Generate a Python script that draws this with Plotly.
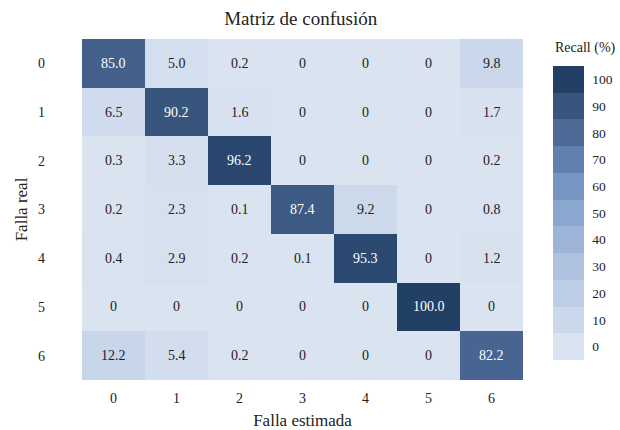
import plotly.graph_objects as go

# Fault classes (real on rows, estimated on columns)
clases = ["0", "1", "2", "3", "4", "5", "6"]

# Recall (%) per real class
fila_0 = [85.0, 5.0, 0.2, 0, 0, 0, 9.8]
fila_1 = [6.5, 90.2, 1.6, 0, 0, 0, 1.7]
fila_2 = [0.3, 3.3, 96.2, 0, 0, 0, 0.2]
fila_3 = [0.2, 2.3, 0.1, 87.4, 9.2, 0, 0.8]
fila_4 = [0.4, 2.9, 0.2, 0.1, 95.3, 0, 1.2]
fila_5 = [0, 0, 0, 0, 0, 100.0, 0]
fila_6 = [12.2, 5.4, 0.2, 0, 0, 0, 82.2]
matriz = [fila_0, fila_1, fila_2, fila_3, fila_4, fila_5, fila_6]

ticks_barra = [0, 10, 20, 30, 40, 50, 60, 70, 80, 90, 100]

colores = ["#dae3f0", "#cbd8eb", "#bdcde6", "#aec1df", "#9db4d8", "#8aa7cf",
           "#7695c2", "#6280ae", "#4d6a96", "#38557e", "#223f66"]

FUENTE = "Liberation Serif, Times New Roman, serif"
TINTA = "#222222"

# continuous scale for the cells
escala_continua = [[i / 10, c] for i, c in enumerate(colores)]

# stepped scale for the colour bar, one band per tick centred on it
escala_discreta = []
n = len(colores)
for i, c in enumerate(colores):
    escala_discreta.append([i / n, c])
    escala_discreta.append([(i + 1) / n, c])

fig = go.Figure()
fig.add_trace(go.Heatmap(
    z=matriz, x=clases, y=clases,
    colorscale=escala_continua, zmin=0, zmax=100,
    showscale=False, xgap=0, ygap=0, hoverinfo="z",
))

# colour bar
fig.add_trace(go.Scatter(
    x=[None], y=[None], mode="markers", showlegend=False, hoverinfo="skip",
    marker=dict(
        color=[0], cmin=-5, cmax=105, colorscale=escala_discreta, showscale=True,
        colorbar=dict(
            tickvals=ticks_barra, ticktext=[str(t) for t in ticks_barra],
            tickfont=dict(family=FUENTE, size=13.5, color=TINTA),
            ticks="outside", ticklen=6, tickcolor="rgba(0,0,0,0)",
            outlinewidth=0, thickness=31,
            len=294, lenmode="pixels", y=(380 - 213) / 341, yanchor="middle",
            x=30 / 441 + 1, xanchor="left", xpad=0, ypad=0,
        ),
    ),
))

anotaciones = []
for i, fila in enumerate(matriz):
    for j, v in enumerate(fila):
        texto = "0" if v == 0 else f"{v:.1f}"
        anotaciones.append(dict(
            x=clases[j], y=clases[i], text=texto, showarrow=False,
            font=dict(family=FUENTE, size=14, color="#ffffff" if v > 50 else TINTA),
        ))

# colour bar heading
anotaciones.append(dict(
    text="Recall (%)", xref="paper", yref="paper", x=(585 - 82) / 441, y=(380 - 48) / 341,
    xanchor="center", yanchor="middle", showarrow=False,
    font=dict(family=FUENTE, size=14, color=TINTA),
))

fig.update_layout(
    width=620, height=430,
    margin=dict(l=82, r=97, t=39, b=50, autoexpand=False),
    paper_bgcolor="white", plot_bgcolor="white",
    title=dict(text="Matriz de confusión", x=0.485, xanchor="center", y=0.958, yanchor="middle",
               font=dict(family=FUENTE, size=19, color=TINTA)),
    annotations=anotaciones,
    font=dict(family=FUENTE, color=TINTA),
)
fig.update_xaxes(
    title=dict(text="Falla estimada", font=dict(family=FUENTE, size=17, color=TINTA), standoff=25),
    tickfont=dict(family=FUENTE, size=14, color=TINTA),
    showgrid=False, zeroline=False, showline=False, ticks="", ticklabelstandoff=8,
    range=[-0.5, 6.5], automargin=False,
)
fig.update_yaxes(
    title=dict(text="Falla real", font=dict(family=FUENTE, size=17, color=TINTA), standoff=6),
    tickfont=dict(family=FUENTE, size=14, color=TINTA),
    showgrid=False, zeroline=False, showline=False, ticks="", ticklabelstandoff=36,
    autorange=False, range=[6.5, -0.5], automargin=False,
)

fig.write_html("out.html")
